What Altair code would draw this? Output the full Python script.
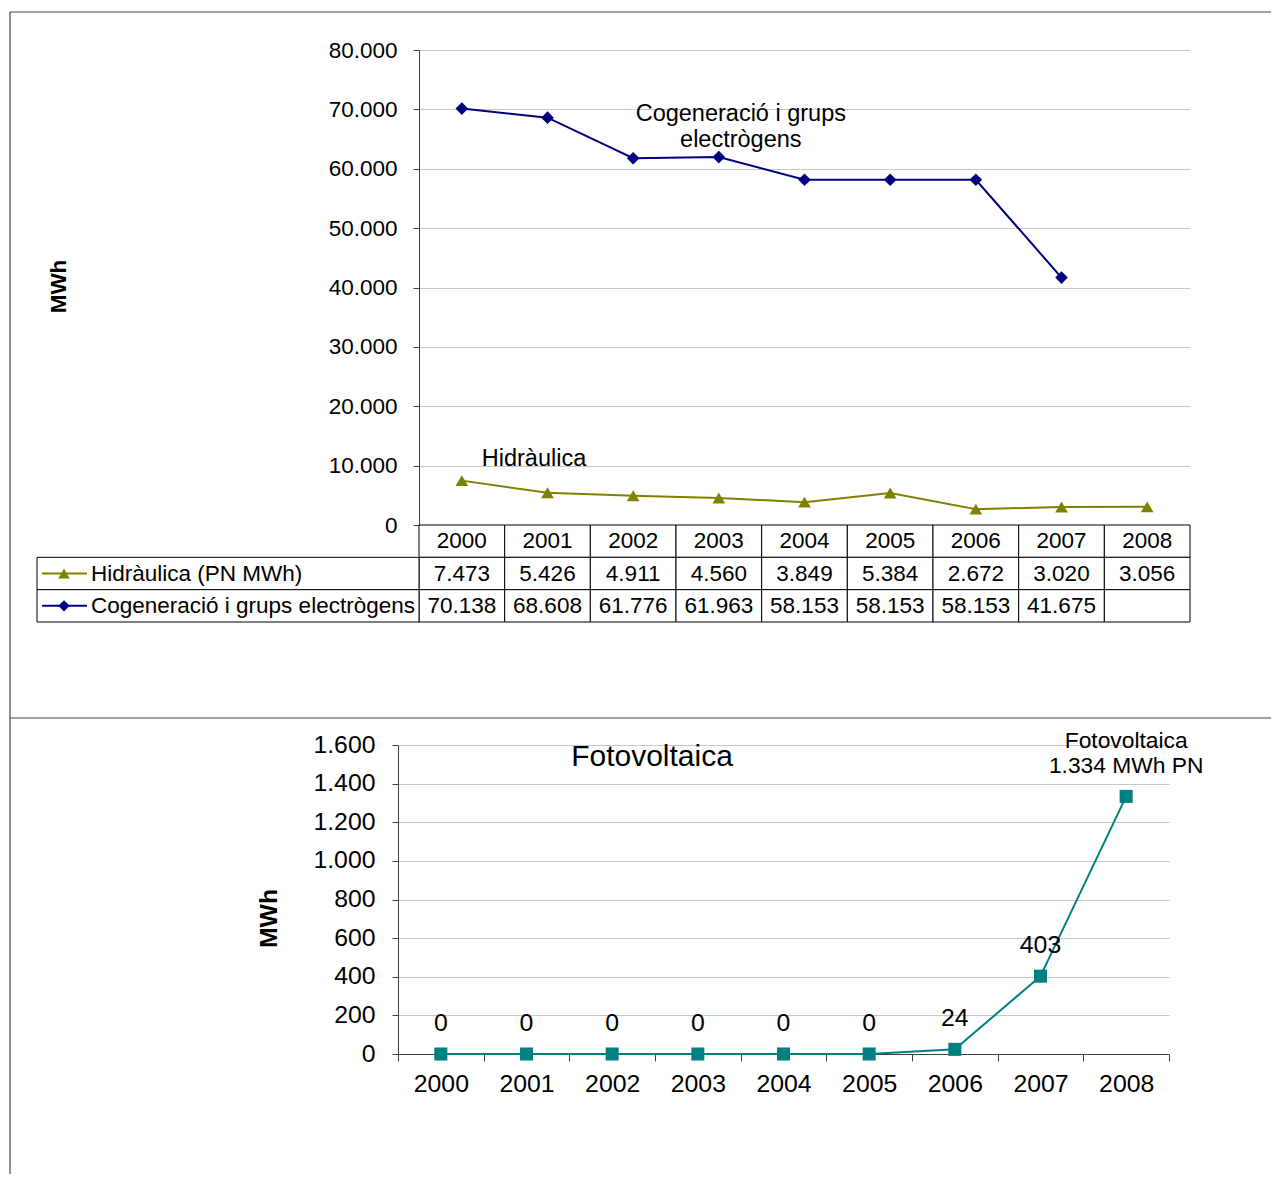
import altair as alt
import pandas as pd

# ---------------- data ----------------
years = ["2000", "2001", "2002", "2003", "2004", "2005", "2006", "2007", "2008"]
hidraulica = [7473, 5426, 4911, 4560, 3849, 5384, 2672, 3020, 3056]
cogeneracio = [70138, 68608, 61776, 61963, 58153, 58153, 58153, 41675, None]
fotovoltaica = [0, 0, 0, 0, 0, 0, 24, 403, 1334]
series_names = ["Hidràulica (PN MWh)", "Cogeneració i grups electrògens"]
series_colors = ["#808000", "#000080"]
series_shapes = ["triangle-up", "diamond"]
header_row = "Any"
top_ticks = [0, 10000, 20000, 30000, 40000, 50000, 60000, 70000, 80000]
bottom_ticks = [0, 200, 400, 600, 800, 1000, 1200, 1400, 1600]

FONT = "Liberation Sans"
NUMFMT = "replace(format({v}, ','), ',', '.')"

top_rows = []
for i, yr in enumerate(years):
    top_rows.append({"year": yr, "series": series_names[0], "value": hidraulica[i]})
    top_rows.append({"year": yr, "series": series_names[1], "value": cogeneracio[i]})
top_df = pd.DataFrame(top_rows)

table_rows = []
for i, yr in enumerate(years):
    table_rows.append({"year": yr, "row": header_row, "value": None})
    table_rows.append({"year": yr, "row": series_names[0], "value": hidraulica[i]})
    table_rows.append({"year": yr, "row": series_names[1], "value": cogeneracio[i]})
table_df = pd.DataFrame(table_rows)

leg_df = pd.DataFrame({"row": series_names})
bot_df = pd.DataFrame({"year": years, "value": fotovoltaica})
one = pd.DataFrame({"k": [0]})

# ---------------- top chart ----------------
xs_top = alt.Scale(domain=years, paddingInner=0, paddingOuter=0)
x_top = alt.X("year:N", scale=xs_top, axis=None, bandPosition=0.5)
y_top = alt.Y(
    "value:Q",
    scale=alt.Scale(domain=[0, 80000]),
    axis=alt.Axis(
        values=top_ticks,
        labelExpr=NUMFMT.format(v="datum.value"),
        labelFontSize=22.5, labelColor="black", labelPadding=16,
        tickSize=6, tickColor="#404040", domainColor="#404040",
        gridColor="#c8c8c8",
        title="MWh", titleFontSize=22.5, titleFontWeight="bold", titleColor="black",
        titleX=-361, titleY=236, titleAngle=270, titleBaseline="middle", titleAlign="center",
    ),
)
color_enc = alt.Color("series:N", scale=alt.Scale(domain=series_names, range=series_colors), legend=None)
shape_enc = alt.Shape("series:N", scale=alt.Scale(domain=series_names, range=series_shapes), legend=None)

lines = alt.Chart(top_df).mark_line(strokeWidth=2).encode(x=x_top, y=y_top, color=color_enc)
points = alt.Chart(top_df).mark_point(filled=True, opacity=1, size=160).encode(
    x=x_top, y=y_top, color=color_enc, shape=shape_enc)

def ann(text, xcat, yval, dx):
    return alt.Chart(one).mark_text(fontSize=23.5, color="black", baseline="middle", dx=dx).encode(
        x=alt.XDatum(xcat, type="nominal", bandPosition=0.5),
        y=alt.YDatum(yval),
        text=alt.value(text),
    )

ann_c1 = ann("Cogeneració i grups", "2003", 69300, 22)
ann_c2 = ann("electrògens", "2003", 64800, 22)
ann_h = ann("Hidràulica", "2001", 11200, -13.5)

frame_col = "#454545"
frame_top = alt.Chart(one).mark_rule(color=frame_col, strokeWidth=1.2).encode(
    x=alt.value(-409), x2=alt.value(852), y=alt.value(-38))
frame_mid = alt.Chart(one).mark_rule(color=frame_col, strokeWidth=1.2).encode(
    x=alt.value(-409), x2=alt.value(852), y=alt.value(668))
frame_left = alt.Chart(one).mark_rule(color=frame_col, strokeWidth=1.2).encode(
    x=alt.value(-409), y=alt.value(-38), y2=alt.value(1124))

top_layer = alt.layer(frame_top, frame_mid, frame_left, lines, points, ann_c1, ann_c2, ann_h).properties(
    width=771, height=475)

# ---------------- data table ----------------
xs_tab = alt.Scale(domain=years, paddingInner=0, paddingOuter=0)
ys_tab = alt.Scale(domain=[header_row] + series_names, paddingInner=0, paddingOuter=0)
x_tab = alt.X("year:N", scale=xs_tab, axis=None)
y_tab = alt.Y("row:N", scale=ys_tab, axis=None)
x_tab_c = alt.X("year:N", scale=xs_tab, axis=None, bandPosition=0.5)
y_tab_c = alt.Y("row:N", scale=ys_tab, axis=None, bandPosition=0.5)

cells = alt.Chart(table_df).mark_rect(fill="white", stroke="black", strokeWidth=1).encode(x=x_tab, y=y_tab)
cell_text = alt.Chart(table_df).transform_calculate(
    label=f"datum.row == '{header_row}' ? datum.year : (isValid(datum.value) ? "
          + NUMFMT.format(v="datum.value") + " : '')"
).mark_text(fontSize=22.5, color="black", baseline="middle").encode(
    x=x_tab_c, y=y_tab_c, text="label:N")

leg_color = alt.Color("row:N", scale=alt.Scale(domain=series_names, range=series_colors), legend=None)
leg_shape = alt.Shape("row:N", scale=alt.Scale(domain=series_names, range=series_shapes), legend=None)
leg_cells = alt.Chart(leg_df).mark_rect(fill="white", stroke="black", strokeWidth=1).encode(
    x=alt.value(-382), x2=alt.value(0), y=y_tab)
leg_rule = alt.Chart(leg_df).mark_rule(strokeWidth=2).encode(
    x=alt.value(-377), x2=alt.value(-332), y=y_tab_c, color=leg_color)
leg_pt = alt.Chart(leg_df).mark_point(filled=True, opacity=1, size=130).encode(
    x=alt.value(-355), y=y_tab_c, color=leg_color, shape=leg_shape)
leg_text = alt.Chart(leg_df).mark_text(fontSize=22.5, color="black", align="left", baseline="middle").encode(
    x=alt.value(-328), y=y_tab_c, text="row:N")

table_layer = alt.layer(cells, cell_text, leg_cells, leg_rule, leg_pt, leg_text).properties(width=771, height=97)

# ---------------- gap ----------------
gap = alt.Chart(one).mark_point(opacity=0).encode(x=alt.value(0), y=alt.value(0)).properties(width=1, height=123)

# ---------------- bottom chart ----------------
SHIFT = 21  # bottom plot sits 21px left of the upper plot
xs_bot = alt.Scale(domain=years, paddingInner=0, paddingOuter=0, range=[-SHIFT, 771 - SHIFT])
x_bot = alt.X(
    "year:N", scale=xs_bot, bandPosition=0.5,
    axis=alt.Axis(title=None, labelAngle=0, labelFontSize=24.8, labelColor="black", labelPadding=10,
                  tickSize=7, tickBand="extent", tickColor="#404040", domainColor="#404040", grid=False),
)
y_bot = alt.Y(
    "value:Q",
    scale=alt.Scale(domain=[0, 1600]),
    axis=alt.Axis(
        values=bottom_ticks, offset=SHIFT,
        labelExpr=NUMFMT.format(v="datum.value"),
        labelFontSize=24.8, labelColor="black", labelPadding=17,
        tickSize=6, tickColor="#404040", domainColor="#404040", gridColor="#c8c8c8",
        title="MWh", titleFontSize=24.8, titleFontWeight="bold", titleColor="black",
        titleX=-129, titleY=173, titleAngle=270, titleBaseline="middle", titleAlign="center",
    ),
)
teal = "#008080"
b_line = alt.Chart(bot_df).mark_line(color=teal, strokeWidth=2).encode(x=x_bot, y=y_bot)
b_pts = alt.Chart(bot_df).mark_point(shape="square", filled=True, opacity=1, size=170, color=teal).encode(
    x=x_bot, y=y_bot)
b_lab = alt.Chart(bot_df).transform_filter("datum.year != '2008'").transform_calculate(
    label=NUMFMT.format(v="datum.value")
).mark_text(fontSize=24.8, color="black", baseline="middle", dy=-30).encode(x=x_bot, y=y_bot, text="label:N")
b_last = alt.Chart(bot_df).transform_filter("datum.year == '2008'").transform_calculate(
    label="'Fotovoltaica|' + " + NUMFMT.format(v="datum.value") + " + '  MWh PN'"
).mark_text(fontSize=22.8, color="black", baseline="middle", dy=-55, lineBreak="|", lineHeight=25).encode(
    x=x_bot, y=y_bot, text="label:N")
b_title = alt.Chart(one).mark_text(fontSize=30, color="black", baseline="middle").encode(
    x=alt.value(254 - SHIFT), y=alt.value(12), text=alt.value("Fotovoltaica"))

bottom_layer = alt.layer(b_line, b_pts, b_lab, b_last, b_title).properties(width=771 - SHIFT, height=309)

# ---------------- layout ----------------
chart = alt.vconcat(top_layer, table_layer, gap, bottom_layer, spacing=0, bounds="flush").properties(
    padding={"left": 1, "top": 3, "right": 0, "bottom": 0}
).configure(font=FONT, view=alt.ViewConfig(strokeWidth=0))

chart.save("out.html", embed_options={"renderer": "svg", "actions": False})
